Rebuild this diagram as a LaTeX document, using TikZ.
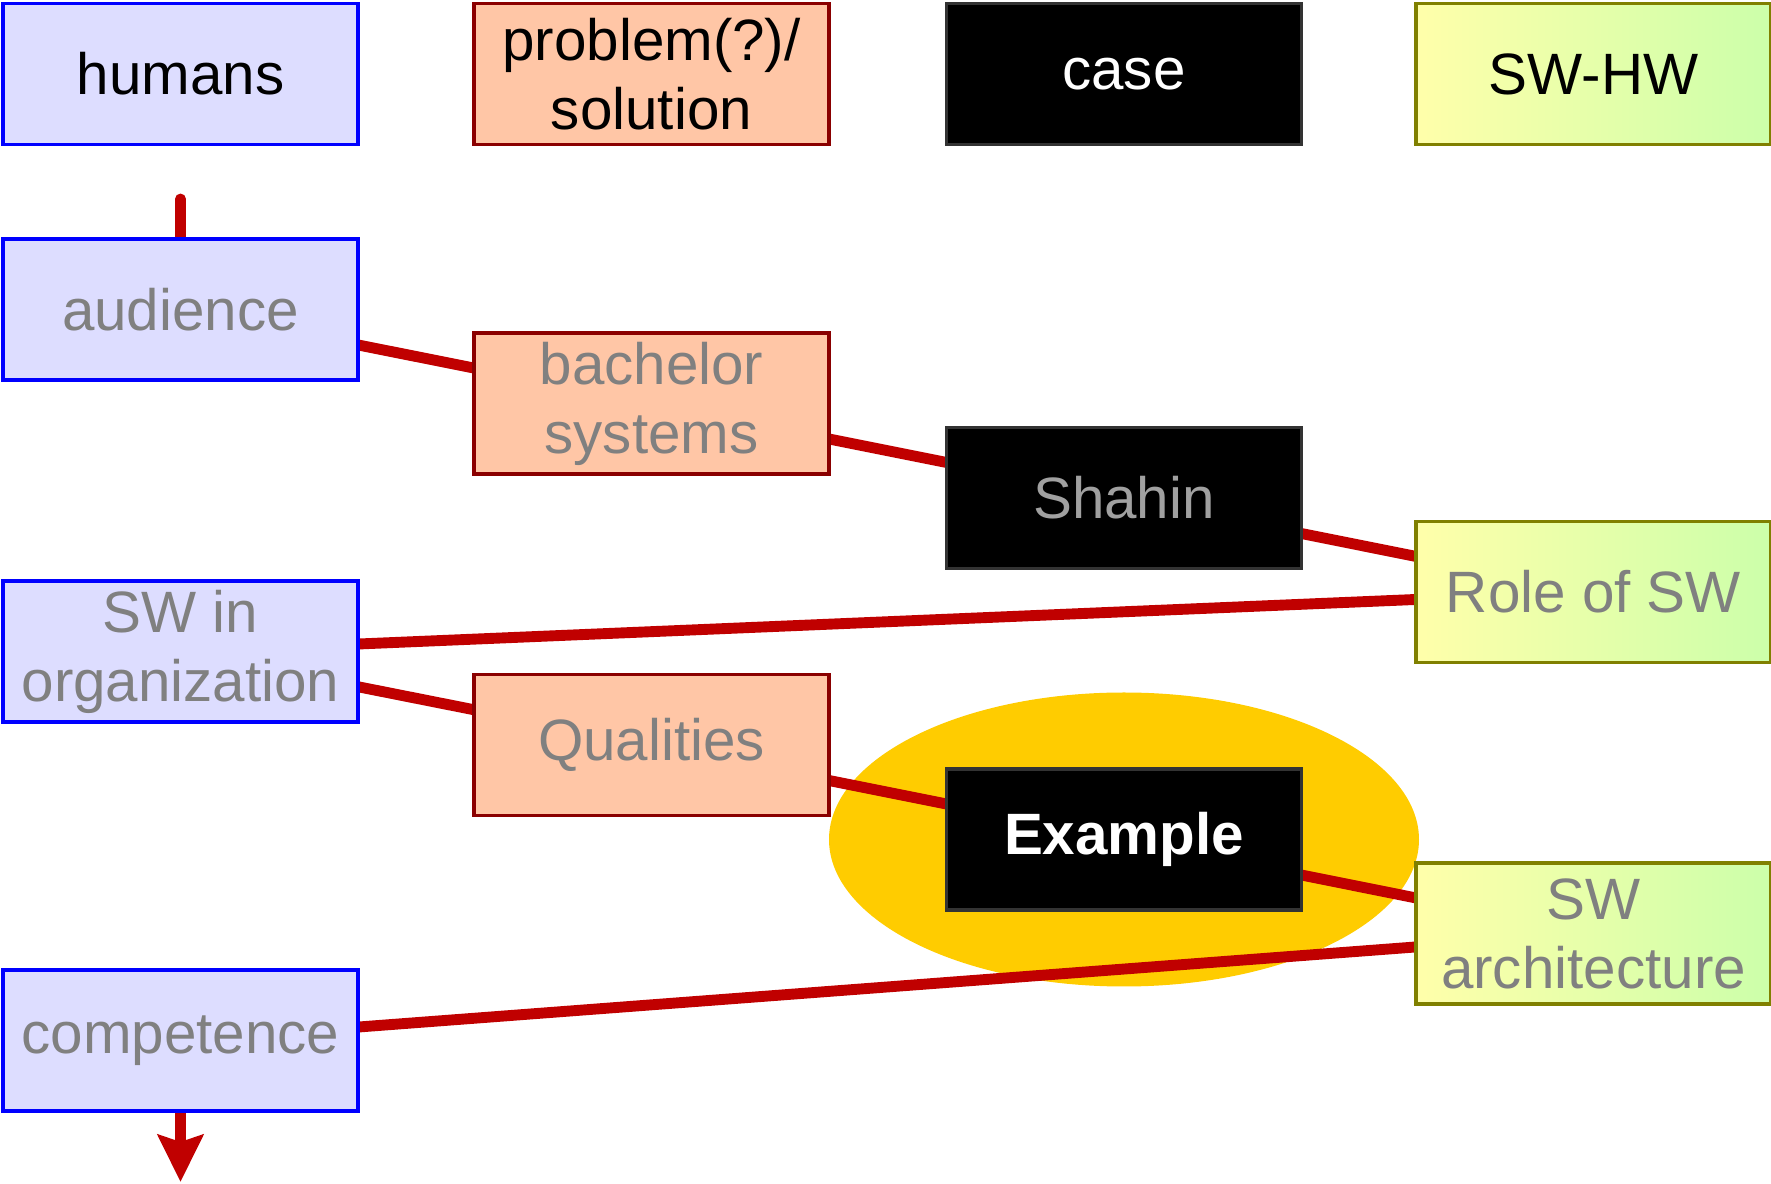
\documentclass[tikz,border=0pt]{standalone}
\usepackage{fontspec}
\setmainfont{Liberation Sans}
\usetikzlibrary{arrows.meta,shapes.geometric}
\definecolor{humanfill}{HTML}{DDDDFF}
\definecolor{humanline}{HTML}{0000FF}
\definecolor{probfill}{HTML}{FFC6A6}
\definecolor{probline}{HTML}{8A0000}
\definecolor{caseline}{HTML}{333333}
\definecolor{swleft}{HTML}{FFFFAA}
\definecolor{swright}{HTML}{CCFFAA}
\definecolor{swline}{HTML}{808000}
\definecolor{linkred}{HTML}{C00000}
\definecolor{halofill}{HTML}{FFCC00}
\definecolor{dimtext}{HTML}{808080}
\definecolor{casetext}{HTML}{A0A0A0}
\pgfdeclarelayer{haloback}
\pgfdeclarelayer{linkback}
\pgfsetlayers{haloback,linkback,main}

\begin{document}
\begin{tikzpicture}[
  box/.style={rectangle, minimum width=3.55cm, minimum height=1.41cm, inner sep=0pt, line width=0.9pt, align=center, font=\fontsize{16.6}{19.6}\selectfont, text=dimtext},
  humanbox/.style={box, draw=humanline, fill=humanfill},
  probbox/.style={box, draw=probline, fill=probfill},
  casebox/.style={box, draw=caseline, fill=black, text=casetext},
  swbox/.style={box, draw=swline, left color=swleft, right color=swright},
  head/.style={text=black},
  link/.style={draw=linkred, line width=3.1pt},
  halo/.style={ellipse, fill=halofill, inner sep=0pt, minimum width=5.9cm, minimum height=2.94cm}
]
\useasboundingbox (0,0) rectangle (17.71,-11.84);

% column heads
\node[humanbox, head] (humans) at (1.805,-0.74) {humans};
\node[probbox, head] (problem) at (6.515,-0.74) {problem(?)/\\solution};
\node[casebox, text=white] (case) at (11.24,-0.74) {case};
\node[swbox, head] (swhw) at (15.935,-0.74) {SW-HW};

\node[humanbox] (audience) at (1.805,-3.095) {audience};
\node[probbox] (bachelor) at (6.515,-4.035) {bachelor\\systems};
\node[casebox] (shahin) at (11.24,-4.98) {Shahin};
\node[swbox] (role) at (15.935,-5.92) {Role of SW};
\node[humanbox] (swinorg) at (1.805,-6.515) {SW in\\organization};
\node[probbox] (qualities) at (6.515,-7.45) {Qualities};
\node[casebox, text=white, font=\fontsize{16.6}{19.6}\selectfont\bfseries] (example) at (11.24,-8.395) {Example};
\node[swbox] (swarch) at (15.935,-9.335) {SW\\architecture};
\node[humanbox] (competence) at (1.805,-10.405) {competence};

\coordinate (stubtop) at (1.805,-1.99);
\coordinate (stubend) at (1.805,-11.82);

\begin{pgfonlayer}{haloback}
\node[halo] (spot) at (example.center) {};
\end{pgfonlayer}

\begin{pgfonlayer}{linkback}
\draw[link, line cap=round] (stubtop) -- (audience.center);
\draw[link] (audience.center) -- (bachelor.center) -- (shahin.center) -- (role.center)
  -- (swinorg.center) -- (qualities.center) -- (example.center) -- (swarch.center)
  -- (competence.center);
\draw[link, -{Stealth[length=0.47cm, width=0.45cm, inset=0.07cm]}] (competence.center) -- (stubend);
\end{pgfonlayer}
\end{tikzpicture}
\end{document}
